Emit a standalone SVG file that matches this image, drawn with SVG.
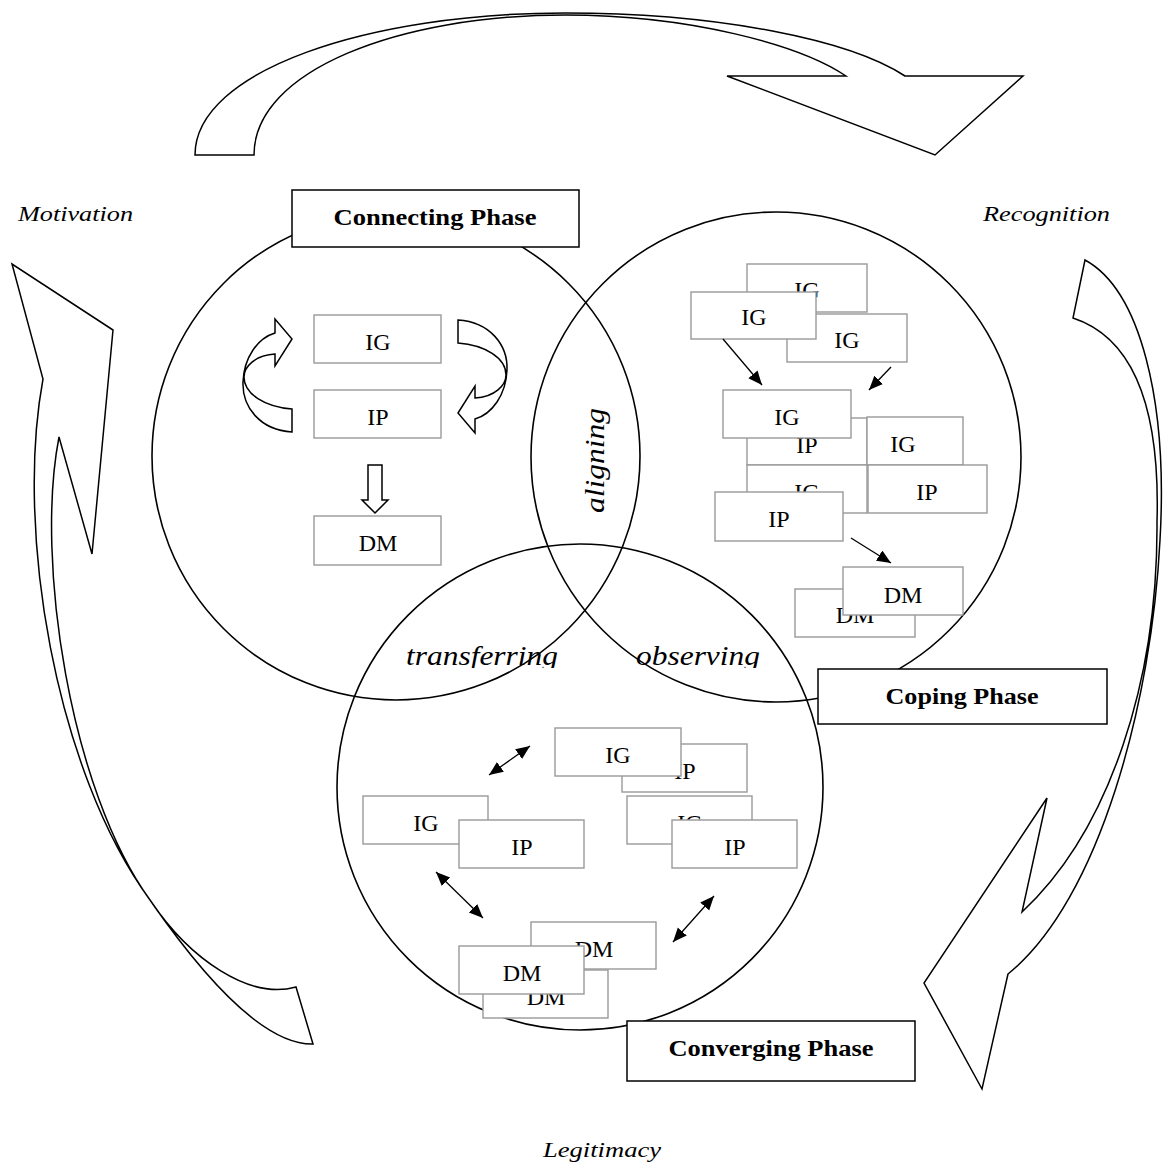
<svg xmlns="http://www.w3.org/2000/svg" width="1163" height="1167" viewBox="0 0 1163 1167">
<style>
.big{fill:#fff;stroke:#000;stroke-width:1.5;stroke-linejoin:miter}
.circ{fill:none;stroke:#000;stroke-width:1.6}
.box{fill:#fff;stroke:#999;stroke-width:1.4}
.pbox{fill:#fff;stroke:#000;stroke-width:1.5}
.t{font-family:"Liberation Serif","Times New Roman",serif;font-size:24px;fill:#000;text-anchor:middle}
.pt{font-family:"Liberation Serif","Times New Roman",serif;font-size:23px;font-weight:bold;fill:#000;text-anchor:middle}
.it{font-family:"Liberation Serif","Times New Roman",serif;font-style:italic;font-size:21px;fill:#000}
.mid{font-family:"Liberation Serif","Times New Roman",serif;font-style:italic;font-size:28px;fill:#000}
.con{stroke:#000;stroke-width:1.3;fill:none}
.small{fill:#fff;stroke:#000;stroke-width:1.5}
</style>
<defs>
<marker id="ah" markerUnits="userSpaceOnUse" markerWidth="16" markerHeight="14" refX="14" refY="6" orient="auto-start-reverse">
<path d="M0,0 L14,6 L0,12 Z" fill="#000"/>
</marker>
<clipPath id="clipMid"><rect x="380" y="600" width="420" height="68"/></clipPath>
</defs>

<!-- big cycle arrows -->
<g id="cycle-top">
<path class="big" d="M195,155 C195,70 370,13 565,13 C720,13 850,40 905,76 L1023,76 L935,155 L727,76 L846,76 C800,45 690,15 565,15 C400,15 254,70 254,155 Z"/>
</g>
<g id="cycle-right">
<path class="big" d="M1085,260 C1140,290 1168,400 1160,540 C1152,700 1100,900 1008,974 L982,1089 L924,983 L1047,798 L1022,912 C1110,830 1158,680 1157,522 C1160,420 1140,340 1073,318 Z"/>
</g>
<g id="cycle-left">
<path class="big" d="M313,1044 L296,987 C250,1000 190,960 150,900 C70,790 35,560 59,437 L92,554 L113,330 L12,264 L43,379 C15,530 55,770 150,900 C195,965 260,1045 313,1044 Z"/>
</g>

<!-- circles -->
<g id="circle-connecting"><circle class="circ" cx="396" cy="456" r="244"/></g>
<g id="circle-coping"><circle class="circ" cx="776" cy="457" r="245"/></g>
<g id="circle-converging"><circle class="circ" cx="580" cy="787" r="243"/></g>

<!-- overlap labels -->
<g id="label-aligning">
<text class="mid" transform="translate(604,513) rotate(-90)" textLength="105" lengthAdjust="spacingAndGlyphs">aligning</text>
</g>
<g id="label-transferring" clip-path="url(#clipMid)">
<text class="mid" x="406" y="665" textLength="152" lengthAdjust="spacingAndGlyphs">transferring</text>
</g>
<g id="label-observing" clip-path="url(#clipMid)">
<text class="mid" x="636" y="665" textLength="124" lengthAdjust="spacingAndGlyphs">observing</text>
</g>

<!-- phase labels -->
<g id="phase-connecting">
<rect class="pbox" x="292" y="190" width="287" height="57"/>
<text class="pt" x="435" y="225" textLength="203" lengthAdjust="spacingAndGlyphs">Connecting Phase</text>
</g>
<g id="phase-coping">
<rect class="pbox" x="818" y="669" width="289" height="55"/>
<text class="pt" x="962" y="704" textLength="153" lengthAdjust="spacingAndGlyphs">Coping Phase</text>
</g>
<g id="phase-converging">
<rect class="pbox" x="627" y="1021" width="288" height="60"/>
<text class="pt" x="771" y="1056" textLength="205" lengthAdjust="spacingAndGlyphs">Converging Phase</text>
</g>

<!-- outer labels -->
<g id="label-motivation"><text class="it" x="18" y="221" textLength="115" lengthAdjust="spacingAndGlyphs">Motivation</text></g>
<g id="label-recognition"><text class="it" x="983" y="221" textLength="127" lengthAdjust="spacingAndGlyphs">Recognition</text></g>
<g id="label-legitimacy"><text class="it" x="543" y="1157" textLength="118" lengthAdjust="spacingAndGlyphs">Legitimacy</text></g>

<!-- connecting phase nodes -->
<g id="c-ig"><rect class="box" x="314" y="315" width="127" height="48"/><text class="t" x="378" y="350">IG</text></g>
<g id="c-ip"><rect class="box" x="314" y="390" width="127" height="48"/><text class="t" x="378" y="425">IP</text></g>
<g id="c-dm"><rect class="box" x="314" y="516" width="127" height="49"/><text class="t" x="378" y="551">DM</text></g>

<!-- coping phase nodes -->
<g id="p-ig1"><rect class="box" x="747" y="264" width="120" height="48"/><text class="t" x="807" y="298">IG</text></g>
<g id="p-ig2"><rect class="box" x="787" y="314" width="120" height="48"/><text class="t" x="847" y="348">IG</text></g>
<g id="p-ig3"><rect class="box" x="691" y="292" width="125" height="47"/><text class="t" x="754" y="325">IG</text></g>
<g id="p-ip1"><rect class="box" x="747" y="418" width="120" height="47"/><text class="t" x="807" y="453">IP</text></g>
<g id="p-ig4"><rect class="box" x="867" y="417" width="96" height="48"/><text class="t" x="903" y="452">IG</text></g>
<g id="p-ig5"><rect class="box" x="747" y="465" width="120" height="48"/><text class="t" x="807" y="500">IG</text></g>
<g id="p-ip2"><rect class="box" x="868" y="465" width="119" height="48"/><text class="t" x="927" y="500">IP</text></g>
<g id="p-ig6"><rect class="box" x="723" y="390" width="128" height="48"/><text class="t" x="787" y="425">IG</text></g>
<g id="p-ip3"><rect class="box" x="715" y="492" width="128" height="49"/><text class="t" x="779" y="527">IP</text></g>
<g id="p-dm1"><rect class="box" x="795" y="589" width="120" height="48"/><text class="t" x="855" y="623">DM</text></g>
<g id="p-dm2"><rect class="box" x="843" y="567" width="120" height="48"/><text class="t" x="903" y="603">DM</text></g>

<!-- converging phase nodes -->
<g id="v-ip1"><rect class="box" x="622" y="744" width="125" height="48"/><text class="t" x="685" y="779">IP</text></g>
<g id="v-ig1"><rect class="box" x="555" y="728" width="126" height="48"/><text class="t" x="618" y="763">IG</text></g>
<g id="v-ig2"><rect class="box" x="363" y="796" width="125" height="48"/><text class="t" x="426" y="831">IG</text></g>
<g id="v-ip2"><rect class="box" x="459" y="820" width="125" height="48"/><text class="t" x="522" y="855">IP</text></g>
<g id="v-ig3"><rect class="box" x="627" y="796" width="125" height="48"/><text class="t" x="690" y="831">IG</text></g>
<g id="v-ip3"><rect class="box" x="672" y="820" width="125" height="48"/><text class="t" x="735" y="855">IP</text></g>
<g id="v-dm1"><rect class="box" x="531" y="922" width="125" height="47"/><text class="t" x="594" y="957">DM</text></g>
<g id="v-dm2"><rect class="box" x="483" y="970" width="125" height="48"/><text class="t" x="546" y="1005">DM</text></g>
<g id="v-dm3"><rect class="box" x="459" y="946" width="125" height="48"/><text class="t" x="522" y="981">DM</text></g>

<!-- connectors -->
<g id="connectors">
<path class="small" d="M458,320 C490,322 508,345 507,370 C506,395 492,414 475,419 L475,433 L458,413 L475,386 L475,398 C495,397 506,385 506,375 C506,358 485,345 458,343 Z"/>
<path class="small" transform="rotate(180,375,376)" d="M458,320 C490,322 508,345 507,370 C506,395 492,414 475,419 L475,433 L458,413 L475,386 L475,398 C495,397 506,385 506,375 C506,358 485,345 458,343 Z"/>
<path class="small" d="M368,465 L382,465 L382,500 L388,500 L375,513 L362,500 L368,500 Z"/>
<line class="con" x1="723" y1="339" x2="762" y2="385" marker-end="url(#ah)"/>
<line class="con" x1="891" y1="367" x2="869" y2="390" marker-end="url(#ah)"/>
<line class="con" x1="851" y1="538" x2="891" y2="563" marker-end="url(#ah)"/>
<line class="con" x1="489" y1="775" x2="530" y2="746" marker-start="url(#ah)" marker-end="url(#ah)"/>
<line class="con" x1="436" y1="872" x2="483" y2="918" marker-start="url(#ah)" marker-end="url(#ah)"/>
<line class="con" x1="673" y1="942" x2="714" y2="896" marker-start="url(#ah)" marker-end="url(#ah)"/>
</g>
</svg>
